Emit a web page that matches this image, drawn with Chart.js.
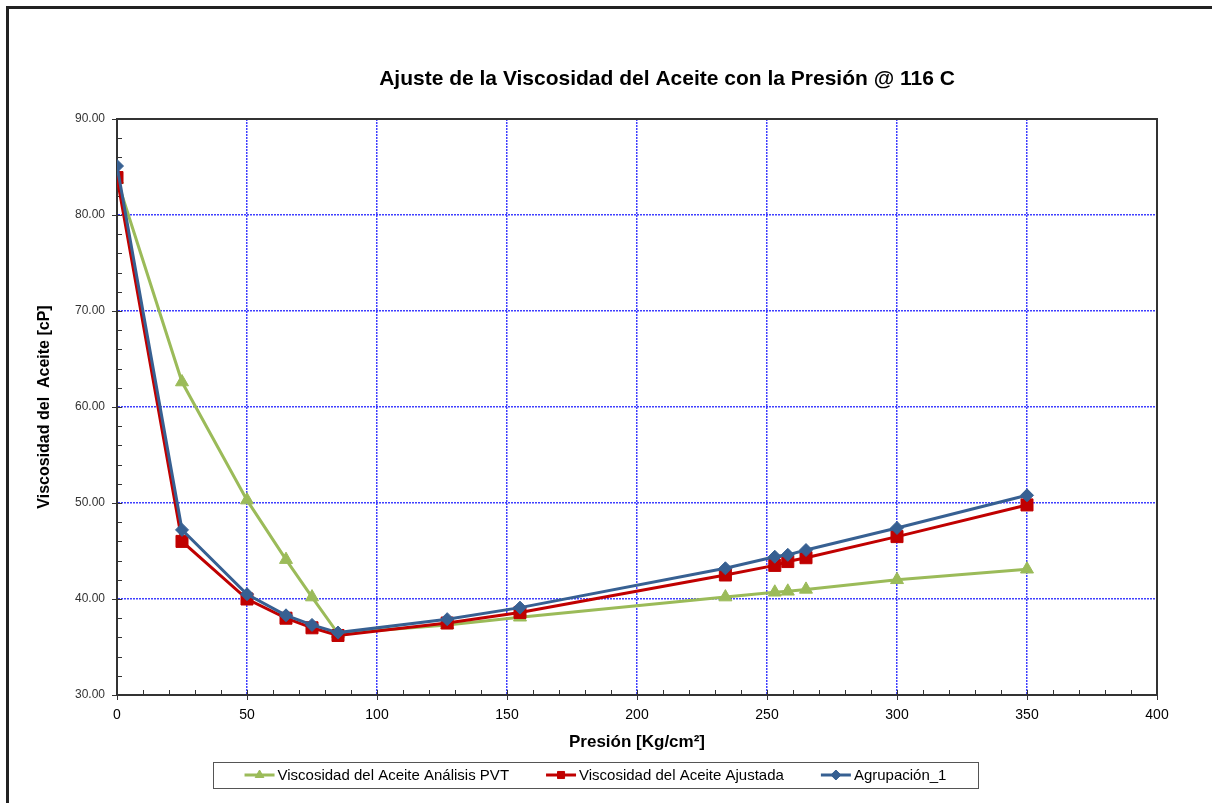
<!DOCTYPE html>
<html>
<head>
<meta charset="utf-8">
<script src="https://cdn.jsdelivr.net/npm/chart.js@4.4.1/dist/chart.umd.min.js"></script>
<style>
  html, body { margin: 0; padding: 0; background: #fff; }
  #wrap { width: 1212px; height: 803px; }
</style>
</head>
<body>
<div id="wrap"><canvas id="myChart" width="1212" height="803"></canvas></div>
<script>
// datos
const presion = [0, 25, 50, 65, 75, 85, 127, 155, 234, 253, 258, 265, 300, 350];
const viscPVT = [83.7, 62.6, 50.3, 44.1, 40.2, 36.4, 37.3, 38.1, 40.2, 40.7, 40.8, 41.0, 42.0, 43.1];
const viscAjustada = [83.9, 46.0, 40.0, 38.0, 37.0, 36.2, 37.5, 38.6, 42.5, 43.5, 43.9, 44.3, 46.5, 49.8];
const viscAgrupacion = [85.1, 47.2, 40.5, 38.3, 37.3, 36.5, 37.9, 39.1, 43.2, 44.4, 44.6, 45.1, 47.4, 50.8];

const seriesNames = ["Viscosidad del Aceite Análisis PVT", "Viscosidad del Aceite Ajustada", "Agrupación_1"];
const seriesColors = ["#9BBB59", "#C00000", "#376092"];
const seriesMarkers = ["triangle", "rect", "rectRot"];

const chartTitle = "Ajuste de la Viscosidad del Aceite con la Presión @ 116 C";
const xTitle = "Presión [Kg/cm²]";
const yTitle = "Viscosidad del  Aceite [cP]";

// ejes: principal y secundario
const xMin = 0, xMax = 400, xMajor = 50, xMinor = 10;
const yMin = 30, yMax = 90, yMajor = 10, yMinor = 2;

function toPoints(xs, ys) {
  return xs.map((x, i) => ({ x: x, y: ys[i] }));
}

const FONT = "'Liberation Sans', Arial, sans-serif";
const GRID_BLUE = "rgba(30,30,255,0.85)";

// marco, marcas menores, titulo y leyenda con caja
const decorPlugin = {
  id: "decor",
  beforeDraw(chart) {
    const ctx = chart.ctx;
    ctx.save();
    ctx.fillStyle = "#fff";
    ctx.fillRect(0, 0, chart.width, chart.height);
    ctx.restore();
  },
  beforeDatasetsDraw(chart) {
    const ctx = chart.ctx;
    const a = chart.chartArea;
    const xs = chart.scales.x, ys = chart.scales.y;
    ctx.save();
    ctx.strokeStyle = "#333";
    ctx.lineWidth = 2;
    ctx.beginPath();
    ctx.moveTo(a.left, a.top);
    ctx.lineTo(a.right, a.top);
    ctx.lineTo(a.right, a.bottom);
    ctx.stroke();

    // marcas de los ejes
    ctx.lineWidth = 1;
    ctx.beginPath();
    for (let v = xMin; v <= xMax; v += xMinor) {
      const px = Math.round(xs.getPixelForValue(v)) + 0.5;
      const major = v % xMajor === 0;
      ctx.moveTo(px, a.bottom - 5);
      ctx.lineTo(px, a.bottom + (major ? 5 : 0));
    }
    for (let v = yMin; v <= yMax; v += yMinor) {
      const py = Math.round(ys.getPixelForValue(v)) + 0.5;
      const major = v % yMajor === 0;
      ctx.moveTo(a.left + 5, py);
      ctx.lineTo(a.left - (major ? 5 : 0), py);
    }
    ctx.stroke();
    ctx.restore();
  },
  afterDraw(chart) {
    const ctx = chart.ctx;
    ctx.save();
    // marco exterior
    ctx.fillStyle = "#222";
    ctx.fillRect(6, 6, 3, chart.height);
    ctx.fillRect(6, 6, chart.width, 3);

    // titulo
    ctx.fillStyle = "#000";
    ctx.font = "bold 21px " + FONT;
    ctx.textAlign = "center";
    ctx.textBaseline = "middle";
    ctx.fillText(chartTitle, 667, 79);

    // leyenda
    const boxL = 213, boxT = 762, boxW = 765, boxH = 26;
    ctx.fillStyle = "#fff";
    ctx.fillRect(boxL, boxT, boxW, boxH);
    ctx.strokeStyle = "#555";
    ctx.lineWidth = 1;
    ctx.strokeRect(boxL + 0.5, boxT + 0.5, boxW, boxH);

    ctx.font = "15px " + FONT;
    ctx.textAlign = "left";
    const lineLen = 30, gapTxt = 3, gapItem = 37;
    const widths = seriesNames.map(n => ctx.measureText(n).width);
    let total = 0;
    widths.forEach((w, i) => { total += lineLen + gapTxt + w + (i < widths.length - 1 ? gapItem : 0); });
    let x = boxL + (boxW - total) / 2;
    const cy = boxT + boxH / 2;
    chart.data.datasets.forEach((ds, i) => {
      ctx.strokeStyle = ds.borderColor;
      ctx.lineWidth = 3;
      ctx.beginPath();
      ctx.moveTo(x, cy);
      ctx.lineTo(x + lineLen, cy);
      ctx.stroke();
      ctx.fillStyle = ds.backgroundColor;
      ctx.lineWidth = 1;
      Chart.helpers.drawPoint(ctx, {
        pointStyle: ds.pointStyle, radius: 5, borderWidth: 1, rotation: 0
      }, x + lineLen / 2, cy);
      ctx.fillStyle = "#000";
      ctx.fillText(seriesNames[i], x + lineLen + gapTxt, cy + 1);
      x += lineLen + gapTxt + widths[i] + gapItem;
    });
    ctx.restore();
  }
};

const datasets = [viscPVT, viscAjustada, viscAgrupacion].map((vals, i) => ({
  label: seriesNames[i],
  data: toPoints(presion, vals),
  borderColor: seriesColors[i],
  backgroundColor: seriesColors[i],
  pointBackgroundColor: seriesColors[i],
  pointBorderColor: seriesColors[i],
  pointStyle: seriesMarkers[i],
  pointRadius: [7.5, 8.5, 6.5][i],
  pointBorderWidth: 1,
  borderWidth: 3,
  tension: 0,
  order: 3 - i
}));

const ctx = document.getElementById("myChart").getContext("2d");
const myChart = new Chart(ctx, {
  type: "line",
  data: { datasets: datasets },
  plugins: [decorPlugin],
  options: {
    responsive: false,
    animation: false,
    devicePixelRatio: 1,
    layout: { padding: { top: 119, right: 55, left: 0, bottom: 0 } },
    plugins: {
      legend: { display: false },
      title: { display: false },
      tooltip: { enabled: false }
    },
    scales: {
      x: {
        type: "linear",
        min: xMin,
        max: xMax,
        afterFit(scale) { scale.height = 108; },
        ticks: {
          stepSize: xMajor,
          maxRotation: 0,
          padding: 12,
          color: "#000",
          font: { family: FONT, size: 14 }
        },
        grid: {
          color: GRID_BLUE,
          lineWidth: 1.5,
          drawTicks: false
        },
        border: { color: "#333", width: 2, dash: [2, 1] },
        title: {
          display: true,
          text: xTitle,
          color: "#000",
          font: { family: FONT, size: 17, weight: "bold" },
          padding: { top: 0, bottom: 50 }
        }
      },
      y: {
        type: "linear",
        min: yMin,
        max: yMax,
        afterFit(scale) { scale.width = 117; },
        ticks: {
          stepSize: yMajor,
          padding: 12,
          color: "#333",
          font: { family: FONT, size: 12 },
          callback: v => v.toFixed(2)
        },
        grid: {
          color: GRID_BLUE,
          lineWidth: 1.5,
          drawTicks: false
        },
        border: { color: "#333", width: 2, dash: [2, 1] },
        title: {
          display: true,
          text: yTitle,
          color: "#000",
          font: { family: FONT, size: 16, weight: "bold" },
          padding: { top: 35, bottom: 0 }
        }
      }
    }
  }
});
</script>
</body>
</html>
